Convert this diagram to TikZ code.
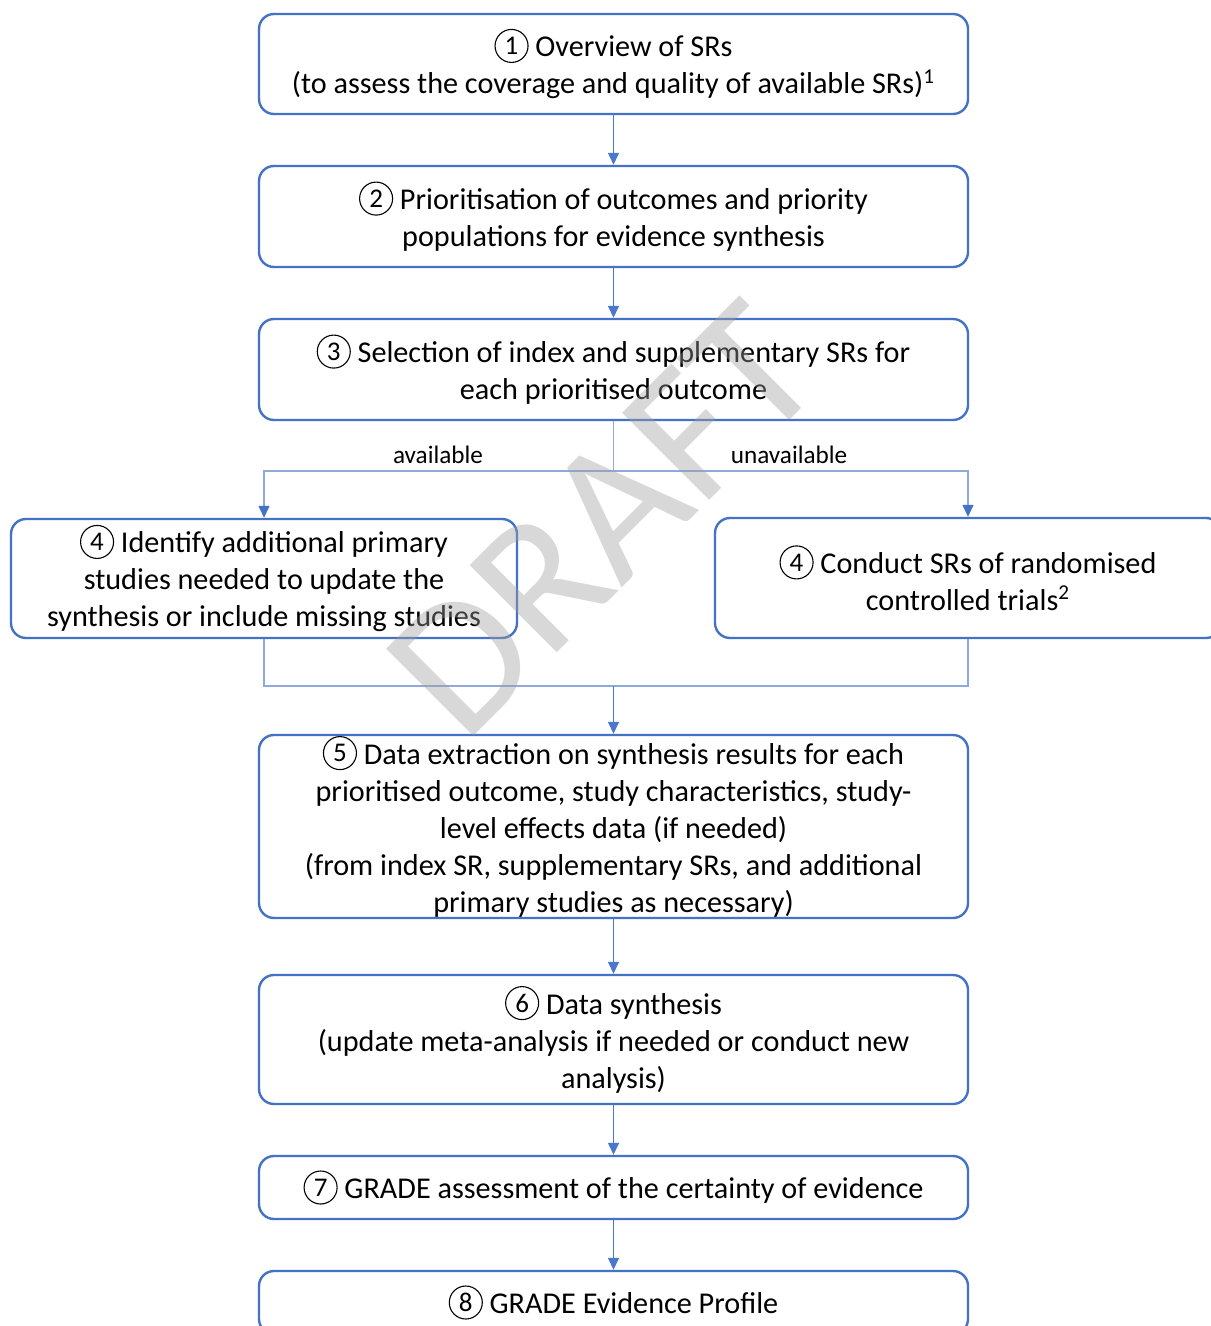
\documentclass[tikz,border=0pt]{standalone}
\usepackage{fontspec}
\setmainfont{Carlito}
\usetikzlibrary{arrows.meta}
\definecolor{boxblue}{HTML}{4472C4}
\definecolor{linkblue}{HTML}{4A78CC}
\definecolor{branchblue}{HTML}{8EAADB}
\definecolor{wmgray}{HTML}{9E9E9E}
\newcommand{\cnum}[1]{\tikz[baseline=-5.5pt]\node[shape=circle,draw=black,fill=none,line width=0.55pt,minimum size=16.5pt,inner sep=0pt,text=black,font=\fontsize{13.5}{13.5}\selectfont](cn){#1};}
\begin{document}
\begin{tikzpicture}[x=0.5pt,y=-0.5pt,
  box/.style={draw=boxblue,line width=1.2pt,rounded corners=7.5pt,align=center,inner sep=0pt,font=\fontsize{15.1}{18.5}\selectfont,text=black},
  link/.style={draw=linkblue,line width=0.7pt,-{Triangle[length=6pt,width=5.5pt]}},
  branch/.style={draw=branchblue,line width=0.7pt},
  brancharrow/.style={draw=branchblue,line width=0.7pt,-{Triangle[length=6pt,width=5.5pt,color=boxblue]}},
  lbl/.style={font=\fontsize{12.6}{14}\selectfont,text=black,inner sep=0pt}]
\useasboundingbox[fill=white] (0,0) rectangle (1210,1326);

\node[box,minimum width=354.5pt,minimum height=50pt] (b1) at (613.5,64)
  {\cnum{1} Overview of SRs\\(to assess the coverage and quality of available SRs)\textsuperscript{1}};
\node[box,minimum width=354.5pt,minimum height=50.5pt] (b2) at (613.5,216.5)
  {\cnum{2} Prioritisation of outcomes and priority\\populations for evidence synthesis};
\node[box,minimum width=354.5pt,minimum height=50.5pt] (b3) at (613.5,369.5)
  {\cnum{3} Selection of index and supplementary SRs for\\each prioritised outcome};
\node[box,minimum width=253pt,minimum height=59.5pt] (b4l) at (264,578.5)
  {\cnum{4} Identify additional primary\\studies needed to update the\\synthesis or include missing studies};
\node[box,minimum width=253pt,minimum height=60pt] (b4r) at (968,578)
  {\cnum{4} Conduct SRs of randomised\\controlled trials\textsuperscript{2}};
\node[box,minimum width=354.5pt,minimum height=91.5pt] (b5) at (613.5,826.5)
  {\cnum{5} Data extraction on synthesis results for each\\prioritised outcome, study characteristics, study-\\level effects data (if needed)\\(from index SR, supplementary SRs, and additional\\primary studies as necessary)};
\node[box,minimum width=354.5pt,minimum height=64.5pt] (b6) at (613.5,1039.5)
  {\cnum{6} Data synthesis\\(update meta-analysis if needed or conduct new\\analysis)};
\node[box,minimum width=354.5pt,minimum height=31.5pt] (b7) at (613.5,1187.5)
  {\cnum{7} GRADE assessment of the certainty of evidence};
\node[box,minimum width=354.5pt,minimum height=31.5pt] (b8) at (613.5,1302.5)
  {\cnum{8} GRADE Evidence Profile};

\coordinate (split) at (613.5,471);
\coordinate (merge) at (613.5,686);

\draw[link] (b1.south) -- (b2.north);
\draw[link] (b2.south) -- (b3.north);
\draw[branch] (b3.south) -- (split);
\draw[brancharrow] (split) -| (b4l.north);
\draw[brancharrow] (split) -| (b4r.north);
\draw[branch] (b4l.south) |- (merge);
\draw[branch] (b4r.south) |- (merge);
\draw[link] (merge) -- (b5.north);
\draw[link] (b5.south) -- (b6.north);
\draw[link] (b6.south) -- (b7.north);
\draw[link] (b7.south) -- (b8.north);

\node[lbl] (lav) at (438,455) {available};
\node[lbl] (lun) at (789,455) {unavailable};

\node[rotate=45,font=\fontsize{96}{96}\selectfont,text=wmgray,opacity=0.4,inner sep=0pt] (wm) at (603,520) {DRAFT};
\end{tikzpicture}
\end{document}
